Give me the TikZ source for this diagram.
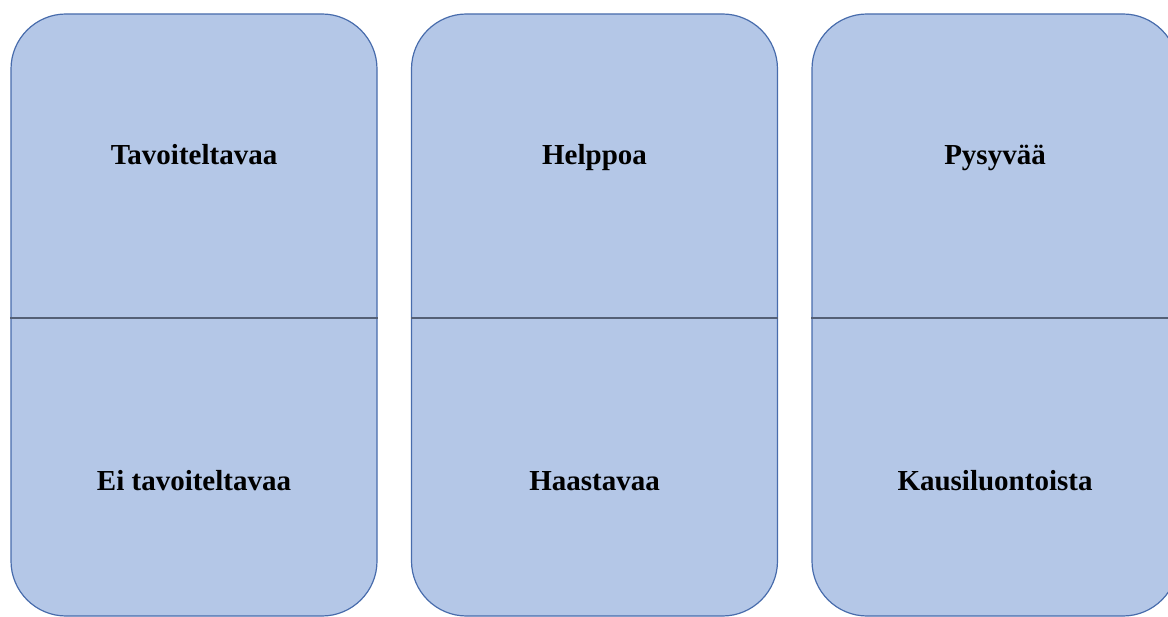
\documentclass[tikz,border=0pt]{standalone}
\usepackage{fontspec}
\setmainfont{Liberation Serif}
\usepackage{tikz}
\usetikzlibrary{positioning}
\usepackage{xcolor}
\definecolor{cardfill}{RGB}{180,199,231}
\definecolor{cardline}{RGB}{72,108,172}
\definecolor{splitline}{RGB}{84,96,118}
\tikzset{
  % one card
  card/.style={rectangle, rounded corners=55pt, draw=cardline, fill=cardfill, line width=1.2pt,
               minimum width=366pt, minimum height=602pt, inner sep=0pt},
  % card word
  cardtext/.style={font=\fontsize{29}{34}\selectfont\bfseries, inner sep=0pt, anchor=base, text=black},
  % middle line
  divline/.style={splitline, line width=1.2pt},
}

\begin{document}
\begin{tikzpicture}[x=1pt, y=-1pt]
  \useasboundingbox (0,0) rectangle (1168,617);
  \clip (0,0) rectangle (1168,617);
  \node[card] (c1) at (194,315) {};
  \node[card] (c2) at (594.5,315) {};
  \node[card] (c3) at (995,315) {};
  \draw[divline] ([yshift=-3pt]c1.west) -- ([yshift=-3pt]c1.east);
  \draw[divline] ([yshift=-3pt]c2.west) -- ([yshift=-3pt]c2.east);
  \draw[divline] ([yshift=-3pt]c3.west) -- ([yshift=-3pt]c3.east);
  \node[cardtext] (t1) at ([yshift=150pt]c1.center) {Tavoiteltavaa};
  \node[cardtext] (b1) at ([yshift=-175pt]c1.center) {Ei tavoiteltavaa};
  \node[cardtext] (t2) at ([yshift=150pt]c2.center) {Helppoa};
  \node[cardtext] (b2) at ([yshift=-175pt]c2.center) {Haastavaa};
  \node[cardtext] (t3) at ([yshift=150pt]c3.center) {Pysyvää};
  \node[cardtext] (b3) at ([yshift=-175pt]c3.center) {Kausiluontoista};
\end{tikzpicture}
\end{document}
